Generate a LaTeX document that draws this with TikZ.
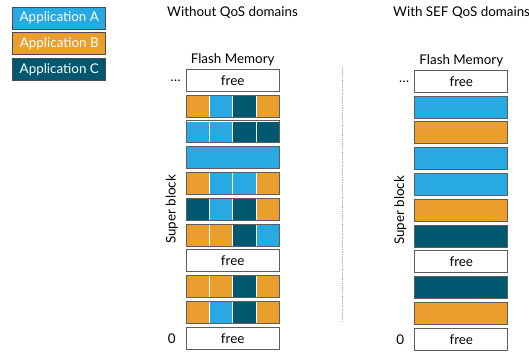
\documentclass[tikz,border=0pt]{standalone}
\usepackage{fontspec}
\setmainfont{Lato}
\usetikzlibrary{positioning}
\definecolor{appA}{HTML}{29A9E1}
\definecolor{appB}{HTML}{EA9E2D}
\definecolor{appC}{HTML}{005870}
\definecolor{rim}{HTML}{5E5E5E}
\tikzset{
  txt/.style={font=\fontsize{13.4}{15}\selectfont, inner sep=1pt},
  block/.style={txt, draw=rim, line width=0.9pt, minimum width=93pt, minimum height=22pt, inner sep=0pt},
  cell/.style={draw=white, line width=0.6pt, minimum width=23.3pt, minimum height=22pt, inner sep=0pt},
  legend/.style={block, draw=rim!80!black, text=white},
}

\begin{document}
\begin{tikzpicture}[x=1pt, y=-1pt]
  \useasboundingbox (0,0) rectangle (529,352);

  \node[legend, fill=appA] (legA) at (59.3,18) {Application A};
  \node[legend, fill=appB] (legB) at (59.3,43.5) {Application B};
  \node[legend, fill=appC] (legC) at (59.3,69.5) {Application C};

  \node[txt, anchor=west] (ltitle) at (166,13) {Without QoS domains};
  \node[txt, anchor=west] (rtitle) at (392,13) {With SEF QoS domains};

  % without QoS domains
  \foreach \r in {1,8,11}
    \node[block, fill=white] (l-\r) at (232.7,54.5+25.8*\r) {free};
  \node[block, fill=appA] (l-4) at (232.7,54.5+25.8*4) {};
  \foreach \r/\p in {2/{B,A,C,B}, 3/{A,A,C,C}, 5/{B,A,A,B}, 6/{C,A,C,B}, 7/{B,B,C,A}, 9/{B,B,C,B}, 10/{B,A,C,B}}{
    \foreach \c [count=\k] in \p
      \node[cell, fill=app\c] (l-\r-\k) at (174.3+23.3*\k,54.5+25.8*\r) {};
    \node[block] (l-\r) at (232.7,54.5+25.8*\r) {};
  }

  % with SEF QoS domains
  \foreach \r in {1,8,11}
    \node[block, fill=white] (r-\r) at (461.3,55.5+25.8*\r) {free};
  \foreach \r/\c in {2/A, 3/B, 4/A, 5/A, 6/B, 7/C, 9/C, 10/B}
    \node[block, fill=app\c] (r-\r) at (461.3,55.5+25.8*\r) {};

  \foreach \s in {l,r}{
    \node[txt, above=1.5pt of \s-1] (\s flash) {Flash Memory};
    \node[txt, left=4pt of \s-1] (\s dots) {\dots};
    \node[txt, left=9pt of \s-11] (\s zero) {0};
    \node[txt, rotate=90] (\s super) at ([xshift=-14pt]\s-6.west) {Super block};
  }

  \coordinate (septop) at (342,67);
  \coordinate (sepbot) at (342,322);
  \draw[gray!70, densely dotted, line width=0.8pt] (septop) -- (sepbot);
\end{tikzpicture}
\end{document}
